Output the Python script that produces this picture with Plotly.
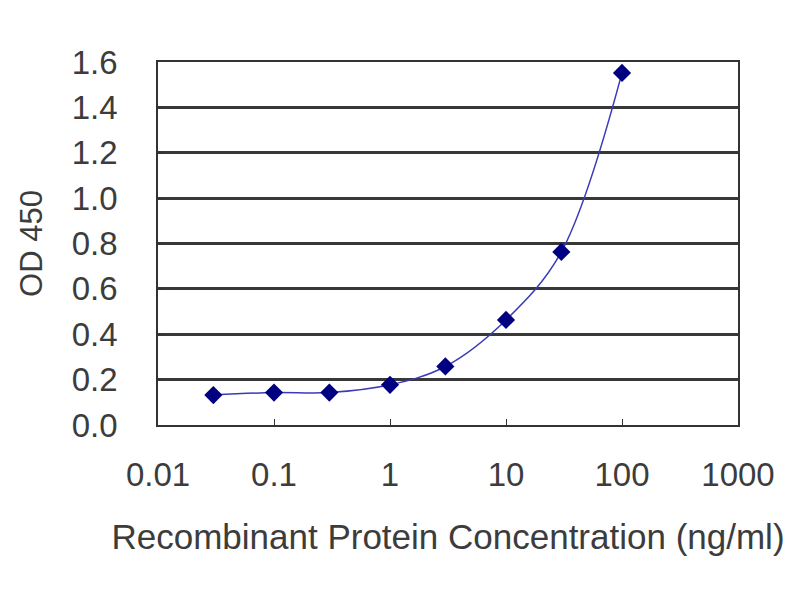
import plotly.graph_objects as go

conc = [0.03, 0.1, 0.3, 1, 3, 10, 30, 100]
od450 = [0.132, 0.143, 0.143, 0.177, 0.258, 0.463, 0.763, 1.552]

x_ticks = [0.01, 0.1, 1, 10, 100, 1000]
x_ticklabels = ['0.01', '0.1', '1', '10', '100', '1000']
y_ticks = [0, 0.2, 0.4, 0.6, 0.8, 1.0, 1.2, 1.4, 1.6]

fig = go.Figure()
fig.add_trace(go.Scatter(
    x=conc, y=od450, mode='lines+markers',
    line=dict(color='#3a3ab8', width=1.5, shape='spline', smoothing=1.0),
    marker=dict(symbol='diamond', size=14, color='#000080'),
))

# page body adds 8px, so margins are shifted by that
fig.update_layout(
    width=800, height=600,
    margin=dict(l=150, r=70, t=54, b=183),
    paper_bgcolor='white', plot_bgcolor='white',
    showlegend=False,
    font=dict(family='Liberation Sans, Arial, sans-serif', size=33, color='#3c3c3c'),
)
fig.update_xaxes(
    type='log', range=[-2, 3],
    tickvals=x_ticks, ticktext=x_ticklabels,
    ticks='inside', ticklen=6, tickcolor='#333333',
    ticklabelstandoff=20, tickfont=dict(size=33),
    showgrid=False, showline=True, linecolor='#333333', linewidth=1.5, mirror=True,
    title=dict(text='Recombinant Protein Concentration (ng/ml)', standoff=32, font=dict(size=35)),
)
fig.update_yaxes(
    range=[0, 1.6], tickvals=y_ticks, tickformat='.1f',
    ticks='inside', ticklen=6, tickcolor='#333333',
    ticklabelstandoff=32, tickfont=dict(size=33),
    showgrid=True, gridcolor='#383838', gridwidth=2.5,
    showline=True, linecolor='#333333', linewidth=1.5, mirror=True,
    zeroline=False,
    title=dict(text='OD 450', standoff=20, font=dict(size=31)),
)

fig.write_html('out.html')
